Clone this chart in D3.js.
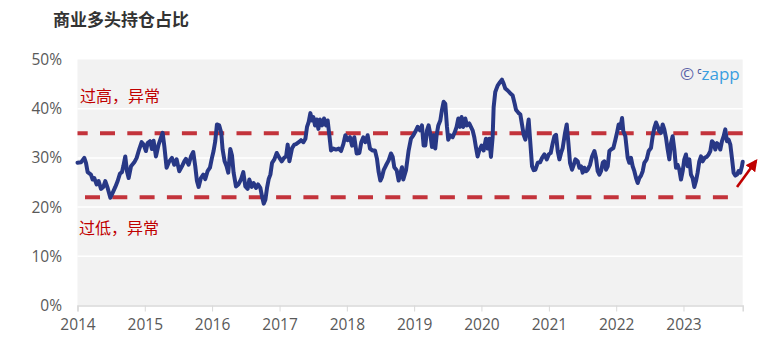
<!DOCTYPE html>
<html><head><meta charset="utf-8">
<script src="https://cdn.jsdelivr.net/npm/d3@7"></script>
<style>body{margin:0;background:#fff} svg{display:block}</style>
</head><body><svg id="c" width="770" height="356"></svg>
<script>
// decimal years of each observation
const years = [
2014.000,2014.052,2014.101,2014.126,2014.151,2014.200,2014.225,2014.250,2014.285,2014.314,2014.349,2014.384,2014.413,2014.448,2014.488,2014.522,2014.562,2014.597,2014.631,2014.661,2014.681,2014.710,2014.735,2014.760,2014.795,2014.844,2014.879,2014.918,2014.953,2014.983,
2015.017,2015.042,2015.077,2015.106,2015.131,2015.166,2015.205,2015.240,2015.265,2015.290,2015.324,2015.364,2015.403,2015.438,2015.473,2015.512,2015.552,2015.587,
2015.611,2015.651,2015.686,2015.720,2015.750,2015.775,2015.800,2015.834,2015.869,2015.899,2015.933,2015.968,2015.998,2016.022,2016.047,2016.072,2016.106,2016.136,2016.156,2016.186,2016.215,2016.240,2016.270,2016.295,2016.319,2016.354,2016.389,2016.428,2016.463,2016.493,2016.527,2016.552,2016.587,2016.616,2016.651,2016.681,2016.715,2016.740,2016.765,2016.790,2016.814,2016.839,2016.864,2016.889,2016.923,2016.958,2016.998,2017.032,2017.067,2017.097,2017.121,2017.146,2017.186,2017.220,
2017.245,2017.285,2017.319,2017.354,2017.384,2017.408,2017.433,2017.458,2017.483,2017.502,2017.527,2017.552,2017.577,2017.601,2017.631,2017.661,2017.691,2017.715,2017.740,2017.765,2017.800,2017.839,2017.879,2017.913,2017.948,2017.978,2018.012,2018.047,2018.077,2018.111,2018.146,2018.186,2018.215,2018.245,2018.275,2018.309,2018.344,2018.384,2018.418,2018.448,2018.473,2018.498,2018.522,2018.547,2018.582,2018.621,2018.656,2018.681,2018.705,2018.740,2018.770,2018.795,2018.819,2018.839,
2018.879,2018.918,2018.953,2018.988,2019.017,2019.052,2019.087,2019.116,2019.141,2019.166,2019.191,2019.215,2019.240,2019.265,2019.290,2019.314,2019.334,2019.359,2019.389,2019.413,2019.438,2019.463,2019.488,2019.507,2019.537,2019.572,2019.606,2019.631,2019.656,2019.681,2019.705,2019.730,2019.760,2019.785,2019.819,2019.844,2019.869,2019.894,2019.918,2019.943,2019.968,2020.002,2020.032,2020.067,2020.092,2020.116,2020.141,2020.166,2020.181,2020.205,2020.240,2020.275,2020.304,2020.329,2020.354,2020.389,2020.423,2020.463,2020.493,
2020.512,2020.552,2020.577,2020.601,2020.626,2020.651,2020.676,2020.700,2020.725,2020.750,2020.775,2020.800,2020.834,2020.869,2020.899,2020.933,2020.968,2020.998,2021.027,2021.057,2021.082,2021.106,2021.131,2021.156,2021.181,2021.205,2021.240,2021.265,2021.290,2021.314,2021.344,2021.369,2021.394,2021.428,2021.453,2021.478,2021.502,2021.527,2021.552,2021.577,2021.611,2021.641,2021.676,2021.700,2021.725,2021.750,2021.775,2021.800,2021.824,2021.849,2021.874,2021.899,2021.923,2021.958,2021.988,2022.012,2022.037,2022.062,2022.087,2022.106,2022.136,
2022.171,2022.195,2022.220,2022.245,2022.270,2022.295,2022.319,2022.344,2022.369,2022.394,2022.418,2022.453,2022.483,2022.517,2022.542,2022.567,2022.592,2022.616,2022.641,2022.666,2022.691,2022.715,2022.740,2022.765,2022.790,2022.814,2022.839,2022.864,2022.889,2022.913,2022.938,2022.963,2022.988,2023.012,2023.037,2023.062,2023.087,2023.111,2023.136,2023.161,2023.186,2023.210,2023.235,2023.260,2023.285,2023.314,2023.344,2023.374,2023.399,2023.423,2023.448,2023.473,2023.498,2023.522,2023.547,2023.572,2023.597,2023.621,2023.646,2023.671,2023.696,2023.720,2023.745,2023.770,2023.795,2023.819,2023.844,2023.869,2023.880
];
// commercial long position share, %
const shares = [
29.0,29.1,30.0,29.0,27.1,26.6,25.6,25.9,24.6,25.3,23.7,24.1,25.3,23.9,21.9,22.9,24.1,25.3,26.8,27.1,28.3,30.3,27.3,25.9,28.3,29.1,30.0,31.8,33.2,32.7,
31.4,33.0,33.4,31.8,33.5,30.3,32.7,34.1,35.1,32.4,28.0,29.3,30.0,28.6,29.7,27.3,28.3,29.3,
29.8,28.6,30.3,31.2,28.3,25.3,24.1,25.9,26.6,25.7,27.3,28.0,30.0,31.4,33.4,36.8,36.6,35.1,31.7,29.3,28.3,27.0,31.8,30.5,27.0,24.2,24.6,25.6,27.1,24.2,23.7,25.6,24.1,24.9,23.9,24.6,23.9,22.2,20.7,21.5,23.9,25.7,26.6,29.0,29.7,31.0,30.0,29.3,30.0,30.3,32.7,29.3,32.0,32.7,
32.8,33.2,33.6,33.2,33.9,36.3,37.3,39.1,37.6,38.3,36.6,37.8,35.9,37.8,36.6,38.0,36.6,37.6,34.6,31.5,31.9,31.7,31.9,31.4,32.8,34.6,33.6,34.2,32.5,34.2,30.9,31.0,33.2,34.2,33.2,34.6,31.9,31.5,31.5,29.8,27.1,25.4,26.1,27.5,28.5,29.5,30.9,30.2,28.1,27.5,25.4,26.8,28.1,25.6,
27.5,31.5,33.9,34.6,35.3,36.3,35.6,36.6,32.5,32.5,35.6,36.6,34.9,32.2,34.6,31.9,34.6,36.6,37.6,39.7,41.4,41.0,36.3,33.7,34.6,34.2,35.3,36.3,38.0,36.3,38.3,36.3,38.0,36.6,37.0,36.3,35.6,34.2,32.2,30.3,31.5,32.5,31.5,33.9,31.9,33.9,30.2,34.2,40.3,43.4,44.7,45.4,45.9,45.1,44.1,43.7,43.2,42.7,41.0,
39.8,39.1,38.8,36.8,34.7,33.7,35.4,37.8,33.0,28.3,27.5,27.6,29.0,29.1,30.0,30.7,29.7,30.7,31.0,33.0,34.4,34.7,31.4,29.7,31.0,32.0,35.1,36.8,33.0,29.0,27.6,28.6,29.7,29.3,28.0,28.3,27.0,28.0,27.3,27.6,28.6,30.3,31.4,30.0,27.3,26.6,27.3,29.0,29.3,27.6,28.3,31.4,31.7,32.0,33.7,35.1,36.8,36.1,38.1,35.4,34.4,
30.0,29.0,30.0,28.3,27.3,25.9,24.9,25.9,26.4,27.3,29.0,29.7,31.4,32.0,34.4,36.1,37.2,36.4,35.4,35.1,36.8,35.8,34.1,31.7,29.7,33.0,34.4,31.7,28.0,28.6,27.6,25.6,27.3,29.7,30.7,28.3,29.7,26.6,25.9,24.1,25.3,27.0,29.3,30.3,29.3,30.0,30.2,30.7,31.4,33.4,33.0,31.7,33.0,32.7,31.7,33.4,34.4,35.8,33.4,33.7,32.7,30.0,27.0,26.4,26.6,27.3,27.0,28.3,29.2
];
const yTicks = [0, 10, 20, 30, 40, 50];
const xTickYears = [2014, 2015, 2016, 2017, 2018, 2019, 2020, 2021, 2022, 2023];
const thresholds = [35, 22];
const thresholdLabels = ["过高，异常", "过低，异常"];
const titleText = "商业多头持仓占比";

function toDate(t) {
  const y = Math.floor(t);
  const s = Date.UTC(y, 0, 1), e = Date.UTC(y + 1, 0, 1);
  return new Date(s + (t - y) * (e - s));
}
const data = years.map((t, i) => ({ d: toDate(t), v: shares[i] }));

const svg = d3.select("#c");
const L = 77.5, R = 742.7, T = 59.5, B = 305.5;
const x = d3.scaleUtc().domain([toDate(2014), toDate(years[years.length - 1])]).range([L, R]);
const y = d3.scaleLinear().domain([0, 50]).range([B, T]);

svg.append("rect").attr("width", 770).attr("height", 356).attr("fill", "#fff");
svg.append("rect").attr("x", L).attr("y", T).attr("width", R - L).attr("height", B - T).attr("fill", "#f2f2f2");

// gridlines
svg.append("g").selectAll("line").data(yTicks.filter(d => d > 0 && d < 50)).join("line")
  .attr("x1", L).attr("x2", R).attr("y1", d => y(d)).attr("y2", d => y(d))
  .attr("stroke", "#fff").attr("stroke-width", 1.5);

// y labels
svg.append("g").selectAll("text").data(yTicks).join("text")
  .attr("x", 62).attr("y", d => y(d)).attr("dy", "0.36em").attr("text-anchor", "end")
  .attr("font-family", "'Open Sans', 'Noto Sans', sans-serif").attr("font-size", 15.5).attr("fill", "#595959")
  .text(d => d + "%");

// x axis
const xAxis = d3.axisBottom(x).tickValues(xTickYears.map(yy => toDate(yy)))
  .tickFormat(d3.utcFormat("%Y")).tickSize(6).tickPadding(7);
const gx = svg.append("g").attr("transform", `translate(0,${B})`).call(xAxis);
gx.select(".domain").attr("stroke", "#d9d9d9").attr("stroke-width", 1.5);
gx.selectAll(".tick line").attr("stroke", "#d9d9d9");
gx.selectAll(".tick text").attr("font-family", "'Open Sans', 'Noto Sans', sans-serif")
  .attr("font-size", 15.5).attr("fill", "#595959");

// threshold dashed lines
svg.append("line").attr("x1", L).attr("x2", R).attr("y1", y(thresholds[0])).attr("y2", y(thresholds[0]))
  .attr("stroke", "#c3333b").attr("stroke-width", 4).attr("stroke-dasharray", "15 12.3").attr("stroke-dashoffset", 4.8);
svg.append("line").attr("x1", 85).attr("x2", 729).attr("y1", y(thresholds[1])).attr("y2", y(thresholds[1]))
  .attr("stroke", "#c3333b").attr("stroke-width", 4).attr("stroke-dasharray", "15 12.3");

// series line
const line = d3.line().x(d => x(d.d)).y(d => y(d.v));
svg.append("path").datum(data).attr("d", line).attr("fill", "none")
  .attr("stroke", "#283886").attr("stroke-width", 4).attr("stroke-linejoin", "round").attr("stroke-linecap", "round");

// labels
svg.append("text").attr("x", 53).attr("y", 26).attr("font-family", "'Noto Sans CJK SC', sans-serif")
  .attr("font-size", 17).attr("font-weight", "bold").attr("fill", "#333").text(titleText);
svg.append("text").attr("x", 80).attr("y", 102).attr("font-family", "'Noto Sans CJK SC', sans-serif")
  .attr("font-size", 16).attr("fill", "#c00000").text(thresholdLabels[0]);
svg.append("text").attr("x", 79).attr("y", 234).attr("font-family", "'Noto Sans CJK SC', sans-serif")
  .attr("font-size", 16).attr("fill", "#c00000").text(thresholdLabels[1]);

// logo
const logo = svg.append("text").attr("x", 680).attr("y", 80).attr("font-family", "'Open Sans', 'Noto Sans', sans-serif");
logo.append("tspan").attr("font-size", 17).attr("fill", "#5b62a8").text("©");
logo.append("tspan").attr("font-size", 9).attr("dx", 3).attr("dy", -6).attr("fill", "#283886").text("c");
logo.append("tspan").attr("font-size", 17).attr("dy", 6).attr("fill", "#3a9ee0").text("zapp");

// arrow
svg.append("defs").append("marker").attr("id", "ah").attr("viewBox", "0 0 10 10").attr("refX", 8).attr("refY", 5)
  .attr("markerWidth", 4.6).attr("markerHeight", 4.6).attr("orient", "auto")
  .append("path").attr("d", "M0,0L10,5L0,10z").attr("fill", "#c00000");
svg.append("line").attr("x1", 737).attr("y1", 187).attr("x2", 756).attr("y2", 161)
  .attr("stroke", "#c00000").attr("stroke-width", 2.6).attr("marker-end", "url(#ah)");
</script></body></html>
